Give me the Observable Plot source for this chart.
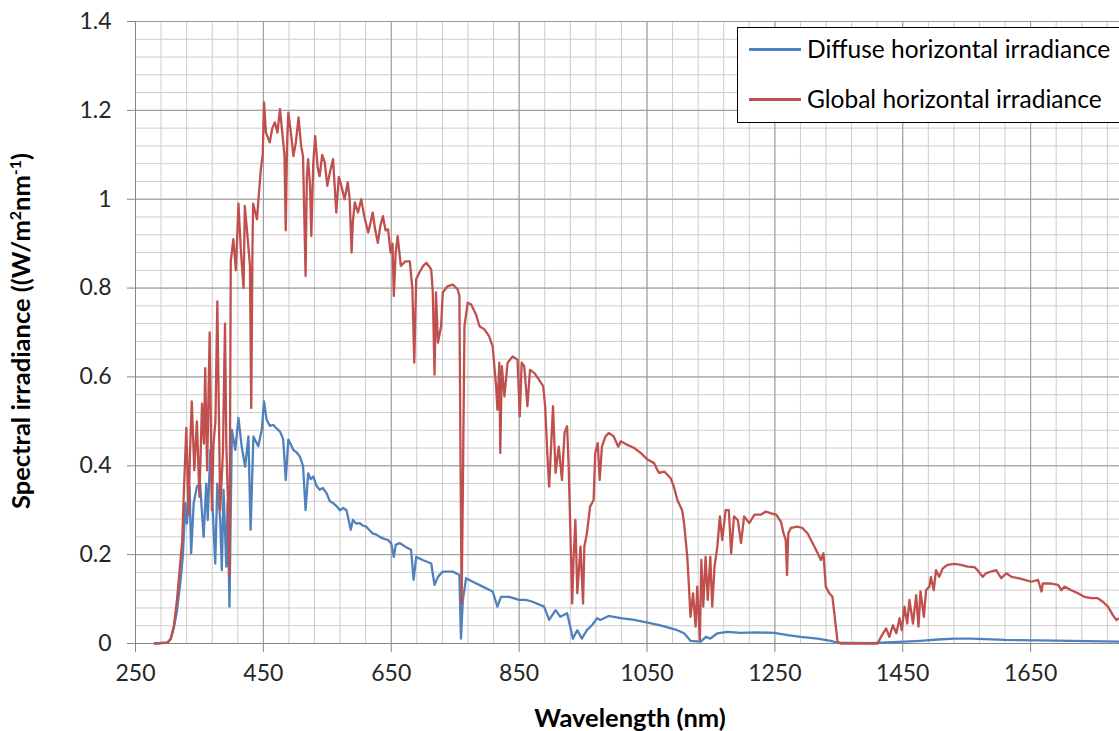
<!DOCTYPE html>
<html>
<head>
<meta charset="utf-8">
<script src="https://cdn.jsdelivr.net/npm/d3@7"></script>
<script src="https://cdn.jsdelivr.net/npm/@observablehq/plot@0.6"></script>
<style>
html, body { margin: 0; padding: 0; background: #fff; overflow: hidden; }
#wrap { position: relative; width: 1119px; height: 731px; overflow: hidden; }
#chart svg { display: block; }
.legend-box { position: absolute; left: 737px; top: 27px; width: 440px; height: 96px; border: 1px solid #000; background: #fff; box-sizing: border-box; }
.swatch { position: absolute; left: 749px; width: 52px; height: 2.5px; }
.ltext { position: absolute; left: 807px; height: 30px; line-height: 30px; font-family: Lato, sans-serif; font-size: 24.5px; color: #000; white-space: nowrap; }
</style>
</head>
<body>
<div id="wrap">
  <div id="chart"></div>
  <div class="legend-box"></div>
  <div class="swatch" style="top:48px;background:#4F81BD"></div>
  <div class="ltext" style="top:34px">Diffuse horizontal irradiance</div>
  <div class="swatch" style="top:98px;background:#C0504D"></div>
  <div class="ltext" style="top:84px">Global horizontal irradiance</div>
</div>
<script>
// ---- data ----
const seriesNames = ["Diffuse horizontal irradiance", "Global horizontal irradiance"];
const xTicks = [250, 450, 650, 850, 1050, 1250, 1450, 1650];
const yTicks = [0, 0.2, 0.4, 0.6, 0.8, 1, 1.2, 1.4];

const globalNm = [280,300,305,310,315,319,323,326,329.5,333,335,338,342,346,350,354,357,359,362,366,369.5,372,375,378,382.5,386.7,390,392,394,397,399,403,407,411,415,419,421,425,429,431,433,434,440,446,449,451,454,460,464,468,472,476,480,483,485,487,489,493,497,501,505,509,512,516,518,520,523,525,528,531,535,538,542,546,550,554,559,564,568,572,577,582,585,588,590,593,598,603,608,614,618,621,625,629,633,637,641,645,649,652,654,657,660,665,672,679,683,686,689,694,700,705,712.5,715,717.7,720,723,728,730.6,738,746,754,756.6,758,760,762,764.5,769.6,775,782.7,788,795.6,803,808.6,814,816,819,820.5,823,827,832,839.8,847.5,851,854,858,863,867,873.6,881,887.6,890.7,894,897,903,907,912,917,921,925,927.5,930,933,935,938,941,946,950,952,956,961,966.5,969,973,976,979.5,985,990,998,1005,1009,1019.5,1030,1040,1051,1061,1066,1069,1077,1087,1092,1097.5,1105,1108,1113,1115.6,1118,1122,1126,1128.6,1132.7,1135,1138,1141.6,1145,1149,1152,1155.6,1160,1164,1167.6,1173,1178,1181.6,1186,1192,1197,1202,1210,1218,1228,1236,1244,1252,1259.5,1263.6,1267,1269,1271,1275,1285.5,1293,1301,1309,1317,1322,1326,1329.6,1335,1340,1343.6,1348,1353,1411,1416,1424,1429,1434.6,1440,1445,1448.6,1452.7,1457,1460.5,1466,1471,1474.6,1477.7,1483,1486.5,1491.7,1494,1498.5,1502,1507,1512.6,1520,1530.6,1541,1551.5,1562,1567,1575,1580,1588,1596,1604,1612,1620,1630.5,1641,1651,1661.6,1667,1669,1682,1693,1698,1703,1713.6,1724,1734,1745,1755,1763,1771,1778.6,1784,1789];
const globalVal = [0,0.002,0.01,0.04,0.1,0.165,0.23,0.355,0.485,0.29,0.42,0.545,0.39,0.5,0.33,0.54,0.45,0.62,0.39,0.7,0.3,0.45,0.5,0.77,0.3,0.43,0.72,0.45,0.35,0.15,0.86,0.91,0.84,0.99,0.88,0.8,0.985,0.92,0.85,0.53,0.9,0.99,0.955,1.067,1.1,1.218,1.15,1.128,1.16,1.173,1.15,1.203,1.143,1.1,0.93,1.12,1.195,1.15,1.097,1.13,1.184,1.12,1.097,0.827,1.05,1.09,1.03,0.917,1.08,1.142,1.07,1.052,1.1,1.083,1.03,1.06,1.09,0.97,1.05,1.03,1,1.038,1,0.88,0.95,0.993,0.97,1,0.96,0.925,0.95,0.97,0.93,0.902,0.94,0.962,0.93,0.932,0.88,0.9,0.782,0.88,0.917,0.85,0.86,0.86,0.8,0.632,0.82,0.835,0.85,0.857,0.842,0.79,0.605,0.79,0.677,0.714,0.79,0.804,0.808,0.797,0.782,0.489,0.09,0.34,0.714,0.767,0.763,0.74,0.714,0.707,0.692,0.669,0.579,0.526,0.632,0.429,0.624,0.556,0.632,0.646,0.639,0.511,0.632,0.624,0.534,0.616,0.609,0.594,0.579,0.534,0.429,0.353,0.534,0.384,0.443,0.368,0.474,0.489,0.398,0.263,0.09,0.188,0.278,0.113,0.218,0.09,0.218,0.248,0.308,0.323,0.429,0.451,0.368,0.443,0.466,0.474,0.466,0.443,0.455,0.447,0.44,0.429,0.414,0.406,0.391,0.384,0.387,0.372,0.353,0.323,0.3,0.271,0.195,0.128,0.06,0.113,0.038,0.128,0.008,0.188,0.083,0.195,0.098,0.195,0.083,0.173,0.218,0.286,0.233,0.3,0.3,0.203,0.286,0.278,0.226,0.286,0.271,0.29,0.29,0.297,0.293,0.29,0.274,0.248,0.233,0.154,0.248,0.26,0.263,0.26,0.248,0.226,0.203,0.188,0.203,0.128,0.113,0.105,0.06,0.004,0,0,0.015,0.034,0.015,0.041,0.023,0.057,0.03,0.083,0.045,0.098,0.045,0.109,0.038,0.117,0.06,0.12,0.128,0.15,0.12,0.165,0.15,0.169,0.177,0.179,0.177,0.173,0.172,0.165,0.15,0.158,0.162,0.165,0.147,0.158,0.15,0.147,0.143,0.139,0.143,0.117,0.135,0.135,0.132,0.12,0.128,0.12,0.113,0.105,0.102,0.102,0.094,0.083,0.064,0.053,0.057];

const diffuseNm = [280,300,305,310,315,320,324,328,330.5,334.6,337,341,346,351,356.5,360.7,363,367,371,374.7,378,382.5,385,387.7,392,394,397,400.7,406,411,416,421.5,426.6,430,434.4,442,447.5,451,455,460,465.6,470,476,481,485,489,496.8,502,507,512,516,520,524,528,533,538,543,549,554,559,564,569.6,575,580,586.7,590,595,600.7,606,611,616,621,627,632,638,645,650,654,657,663,672,681,685,689,699,712.5,717.7,723,730.6,746,756.6,759,762,767,777.5,793,808.6,816,821.7,834.6,850,860.6,871,889,897,907,914.5,925,930,934,941,948,956,964,972,977,990,1009,1030,1051,1071,1097.5,1108,1118,1134,1142,1149,1160,1176,1196,1223,1249,1270,1290,1317,1337,1348,1400,1453,1478,1505,1531,1557,1610,1662,1714,1789];
const diffuseVal = [0,0.002,0.01,0.035,0.075,0.136,0.196,0.316,0.27,0.353,0.203,0.316,0.353,0.36,0.24,0.36,0.278,0.436,0.294,0.18,0.36,0.278,0.165,0.346,0.173,0.316,0.083,0.481,0.436,0.508,0.444,0.398,0.466,0.256,0.466,0.444,0.481,0.545,0.504,0.49,0.492,0.485,0.477,0.46,0.368,0.459,0.436,0.43,0.421,0.4,0.3,0.383,0.37,0.376,0.355,0.346,0.35,0.338,0.32,0.316,0.31,0.3,0.305,0.3,0.256,0.278,0.27,0.271,0.265,0.263,0.255,0.248,0.245,0.24,0.236,0.233,0.225,0.195,0.222,0.226,0.218,0.211,0.143,0.195,0.188,0.18,0.132,0.15,0.162,0.162,0.154,0.011,0.098,0.147,0.139,0.128,0.117,0.083,0.105,0.105,0.098,0.098,0.094,0.083,0.053,0.075,0.06,0.068,0.038,0.011,0.03,0.011,0.03,0.041,0.057,0.053,0.062,0.057,0.053,0.047,0.041,0.03,0.023,0.006,0.004,0.015,0.011,0.023,0.026,0.024,0.025,0.024,0.019,0.015,0.011,0.006,0.002,0.001,0.004,0.006,0.009,0.011,0.011,0.008,0.007,0.006,0.004];

// ---- build tables ----
const globalData = globalNm.map((nm, i) => ({nm, v: globalVal[i], s: seriesNames[1]}));
const diffuseData = diffuseNm.map((nm, i) => ({nm, v: diffuseVal[i], s: seriesNames[0]}));
const minorX = d3.range(250, 1790, 40);
const minorY = d3.range(0, 36).map(i => +(i * 0.04).toFixed(2));

const chart = Plot.plot({
  width: 1119,
  height: 731,
  marginLeft: 135,
  marginRight: 0,
  marginTop: 21,
  marginBottom: 88,
  style: {fontFamily: "Lato, sans-serif", fontSize: "23px", background: "white", overflow: "visible"},
  x: {domain: [250, 1789]},
  y: {domain: [0, 1.4]},
  marks: [
    Plot.gridX(minorX, {stroke: "#cccccc", strokeOpacity: 1, strokeWidth: 1}),
    Plot.gridY(minorY, {stroke: "#cccccc", strokeOpacity: 1, strokeWidth: 1}),
    Plot.gridX(xTicks, {stroke: "#999999", strokeOpacity: 1, strokeWidth: 1}),
    Plot.gridY(yTicks, {stroke: "#999999", strokeOpacity: 1, strokeWidth: 1}),
    Plot.ruleY([0], {stroke: "#868686", strokeWidth: 1}),
    Plot.ruleX([250], {stroke: "#868686", strokeWidth: 1}),
    Plot.line(diffuseData, {x: "nm", y: "v", stroke: "#4F81BD", strokeWidth: 2.3, strokeLinejoin: "round"}),
    Plot.line(globalData, {x: "nm", y: "v", stroke: "#C0504D", strokeWidth: 2.3, strokeLinejoin: "round"}),
    Plot.axisX(xTicks, {tickSize: 9, tickPadding: 12, stroke: "#868686", fill: "#262626", label: null, tickFormat: d => String(d)}),
    Plot.axisY(yTicks, {tickSize: 8, tickPadding: 16, stroke: "#868686", fill: "#262626", label: null, tickFormat: d => String(+d.toFixed(1))})
  ]
});
document.getElementById("chart").appendChild(chart);

// axis titles
const svg = d3.select(chart);
svg.append("text")
  .attr("x", 630).attr("y", 727)
  .attr("text-anchor", "middle")
  .attr("font-family", "Lato, sans-serif").attr("font-weight", "bold").attr("font-size", 25.5)
  .attr("fill", "#000")
  .text("Wavelength (nm)");
const yt = svg.append("text")
  .attr("transform", "translate(30,331) rotate(-90)")
  .attr("text-anchor", "middle")
  .attr("font-family", "Lato, sans-serif").attr("font-weight", "bold").attr("font-size", 25.5)
  .attr("fill", "#000");
yt.append("tspan").text("Spectral irradiance ((W/m");
yt.append("tspan").attr("font-size", 16).attr("dy", -9).text("2");
yt.append("tspan").attr("dy", 9).text("nm");
yt.append("tspan").attr("font-size", 16).attr("dy", -9).text("-1");
yt.append("tspan").attr("dy", 9).text(")");
</script>
</body>
</html>
